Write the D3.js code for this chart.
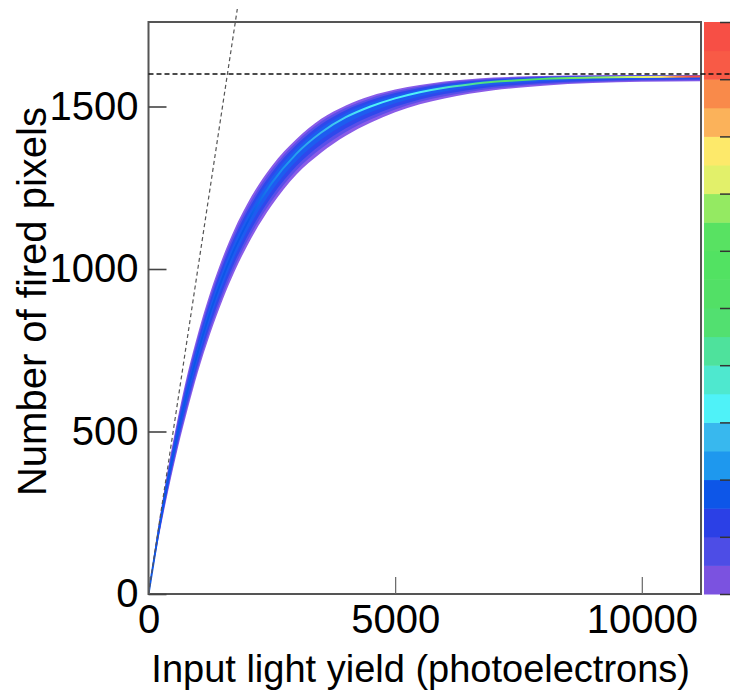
<!DOCTYPE html>
<html><head><meta charset="utf-8">
<script src="https://cdn.jsdelivr.net/npm/d3@7"></script>
<style>html,body{margin:0;padding:0;background:#fff;} svg{display:block;}</style>
</head><body>
<svg id="chart" width="730" height="695"></svg>
<script>
// ---- data ----
const xSamples = [0, 200, 400, 600, 800, 1000, 1250, 1500, 1750, 2000, 2500, 3000, 3500, 4000, 4500, 5000, 5500, 6000, 6500, 7000, 7500, 8000, 9000, 10000, 11200];
const centerN  = [0, 188, 354, 500, 630, 743, 867, 973, 1064, 1142, 1265, 1355, 1420, 1467, 1500, 1525, 1544, 1558, 1568, 1576, 1581, 1585, 1589, 1591, 1592];
const lowerN   = [0, 168, 318, 452, 572, 682, 801, 904, 994, 1071, 1196, 1291, 1358, 1410, 1450, 1482, 1507, 1525, 1539, 1550, 1558, 1564, 1572, 1576, 1578];
const upperN   = [0, 208, 390, 546, 684, 800, 927, 1034, 1125, 1200, 1317, 1400, 1462, 1503, 1532, 1552, 1566, 1577, 1584, 1589, 1592, 1594, 1596, 1597, 1597];
const bandFractions  = [1, 0.8, 0.6, 0.35];
const bandColors     = ["#8a5ce8", "#5a4fe8", "#2e48ec", "#1d5cf0"];
const coreStopX       = [0, 2000, 2800, 3500, 4500, 5500, 6000, 6500, 7000, 8000, 9300, 10000, 10400, 10700, 11000, 11200];
const corePaletteIdx  = [3, 3, 4, 5, 6, 6, 7, 8, 9, 10, 13, 14, 15, 17, 19, 19];
const paletteColors = ["#7b52e0", "#4d4de6", "#2b40e6", "#0d56e8", "#1e98ee", "#38b8ee", "#4ff2f8", "#4ee8cf", "#4ee29c", "#52e070",
                       "#52e066", "#52e262", "#58e262", "#94ea62", "#e2f06a", "#fde96a", "#fbb25a", "#f98a4a", "#f85a46", "#f74f45"];
const xTicks = [0, 5000, 10000];
const yTicks = [0, 500, 1000, 1500];
const zTicks = [0, 2, 4, 6, 8, 10, 12, 14, 16, 18, 20];
const saturationLine = [[0, 1600], [12000, 1600]];
const linearLine = [[0, 0], [1800, 1800]];
const xTitle = "Input light yield (photoelectrons)";
const yTitle = "Number of fired pixels";

// ---- layout ----
const W = 730, H = 695;
const P = {left: 148.5, right: 701, top: 22, bottom: 594};
const FONT = "'Liberation Sans', Arial, Helvetica, sans-serif";
const x = d3.scaleLinear().domain([0, 11200]).range([P.left, P.right]);
const y = d3.scaleLinear().domain([0, 1760]).range([P.bottom, P.top]);
const z = d3.scaleLinear().domain([0, 20]).range([P.bottom, P.top]);

const svg = d3.select("#chart");
svg.append("rect").attr("width", W).attr("height", H).attr("fill", "#fff");
const defs = svg.append("defs");
defs.append("clipPath").attr("id", "plotclip").append("rect")
  .attr("x", P.left).attr("y", P.top).attr("width", P.right - P.left).attr("height", P.bottom - P.top);

// ---- histogram band ----
const pts = xSamples.map((xv, i) => ({x: xv, c: centerN[i], lo: lowerN[i], hi: upperN[i]}));
const g = svg.append("g").attr("clip-path", "url(#plotclip)");
bandFractions.forEach((f, k) => {
  const area = d3.area().curve(d3.curveMonotoneX)
    .x(d => x(d.x))
    .y0(d => y(d.c - f * (d.c - d.lo)))
    .y1(d => y(d.c + f * (d.hi - d.c)));
  g.append("path").datum(pts).attr("d", area).attr("fill", bandColors[k]);
});
const grad = defs.append("linearGradient").attr("id", "coreGrad")
  .attr("gradientUnits", "userSpaceOnUse")
  .attr("x1", x(0)).attr("x2", x(11200)).attr("y1", 0).attr("y2", 0);
coreStopX.forEach((sx, i) => {
  grad.append("stop").attr("offset", (sx / 11200))
    .attr("stop-color", paletteColors[corePaletteIdx[i]]);
});
g.append("path").datum(pts)
  .attr("d", d3.line().curve(d3.curveMonotoneX).x(d => x(d.x)).y(d => y(d.c)))
  .attr("fill", "none").attr("stroke", "url(#coreGrad)").attr("stroke-width", 2);

// ---- palette (colour bar) ----
const pal = svg.append("g");
paletteColors.forEach((c, i) => {
  pal.append("rect").attr("x", 704).attr("y", z(i + 1)).attr("width", 30)
    .attr("height", z(i) - z(i + 1) + 0.5).attr("fill", c);
});
const zAxis = svg.append("g").attr("transform", `translate(730,0)`)
  .call(d3.axisRight(z).tickValues(zTicks).tickSize(-10).tickFormat(""));
zAxis.select(".domain").remove();
zAxis.selectAll(".tick line").attr("stroke", "#333").attr("stroke-width", 1.5);

// ---- frame ----
svg.append("rect").attr("x", P.left).attr("y", P.top)
  .attr("width", P.right - P.left).attr("height", P.bottom - P.top)
  .attr("fill", "none").attr("stroke", "#555").attr("stroke-width", 2);

// ---- axes ----
const yAxis = svg.append("g").attr("transform", `translate(${P.left},0)`)
  .call(d3.axisLeft(y).tickValues(yTicks).tickSize(-18).tickPadding(10).tickFormat(d3.format("d")));
yAxis.select(".domain").remove();
yAxis.selectAll(".tick line").attr("stroke", "#444").attr("stroke-width", 1.6);
yAxis.selectAll("text").attr("font-family", FONT).attr("font-size", 40).attr("fill", "#000");

const xAxis = svg.append("g").attr("transform", `translate(0,${P.bottom})`)
  .call(d3.axisBottom(x).tickValues(xTicks).tickSize(-17).tickPadding(11).tickFormat(d3.format("d")));
xAxis.select(".domain").remove();
xAxis.selectAll(".tick line").attr("stroke", "#666").attr("stroke-width", 1.2);
xAxis.selectAll("text").attr("font-family", FONT).attr("font-size", 40).attr("fill", "#000");

// ---- dashed reference lines ----
const lineGen = d3.line().x(d => x(d[0])).y(d => y(d[1]));
svg.append("path").datum(saturationLine).attr("d", lineGen)
  .attr("fill", "none").attr("stroke", "#111").attr("stroke-width", 1.3).attr("stroke-dasharray", "5,3");
svg.append("path").datum(linearLine).attr("d", lineGen)
  .attr("fill", "none").attr("stroke", "#555").attr("stroke-width", 1.2).attr("stroke-dasharray", "4,3");

// ---- titles ----
svg.append("text").attr("x", 690).attr("y", 682).attr("text-anchor", "end")
  .attr("font-family", FONT).attr("font-size", 38).attr("fill", "#000").text(xTitle);
svg.append("text").attr("transform", "translate(46,107) rotate(-90)").attr("text-anchor", "end")
  .attr("font-family", FONT).attr("font-size", 40).attr("fill", "#000").text(yTitle);
</script>
</body></html>
